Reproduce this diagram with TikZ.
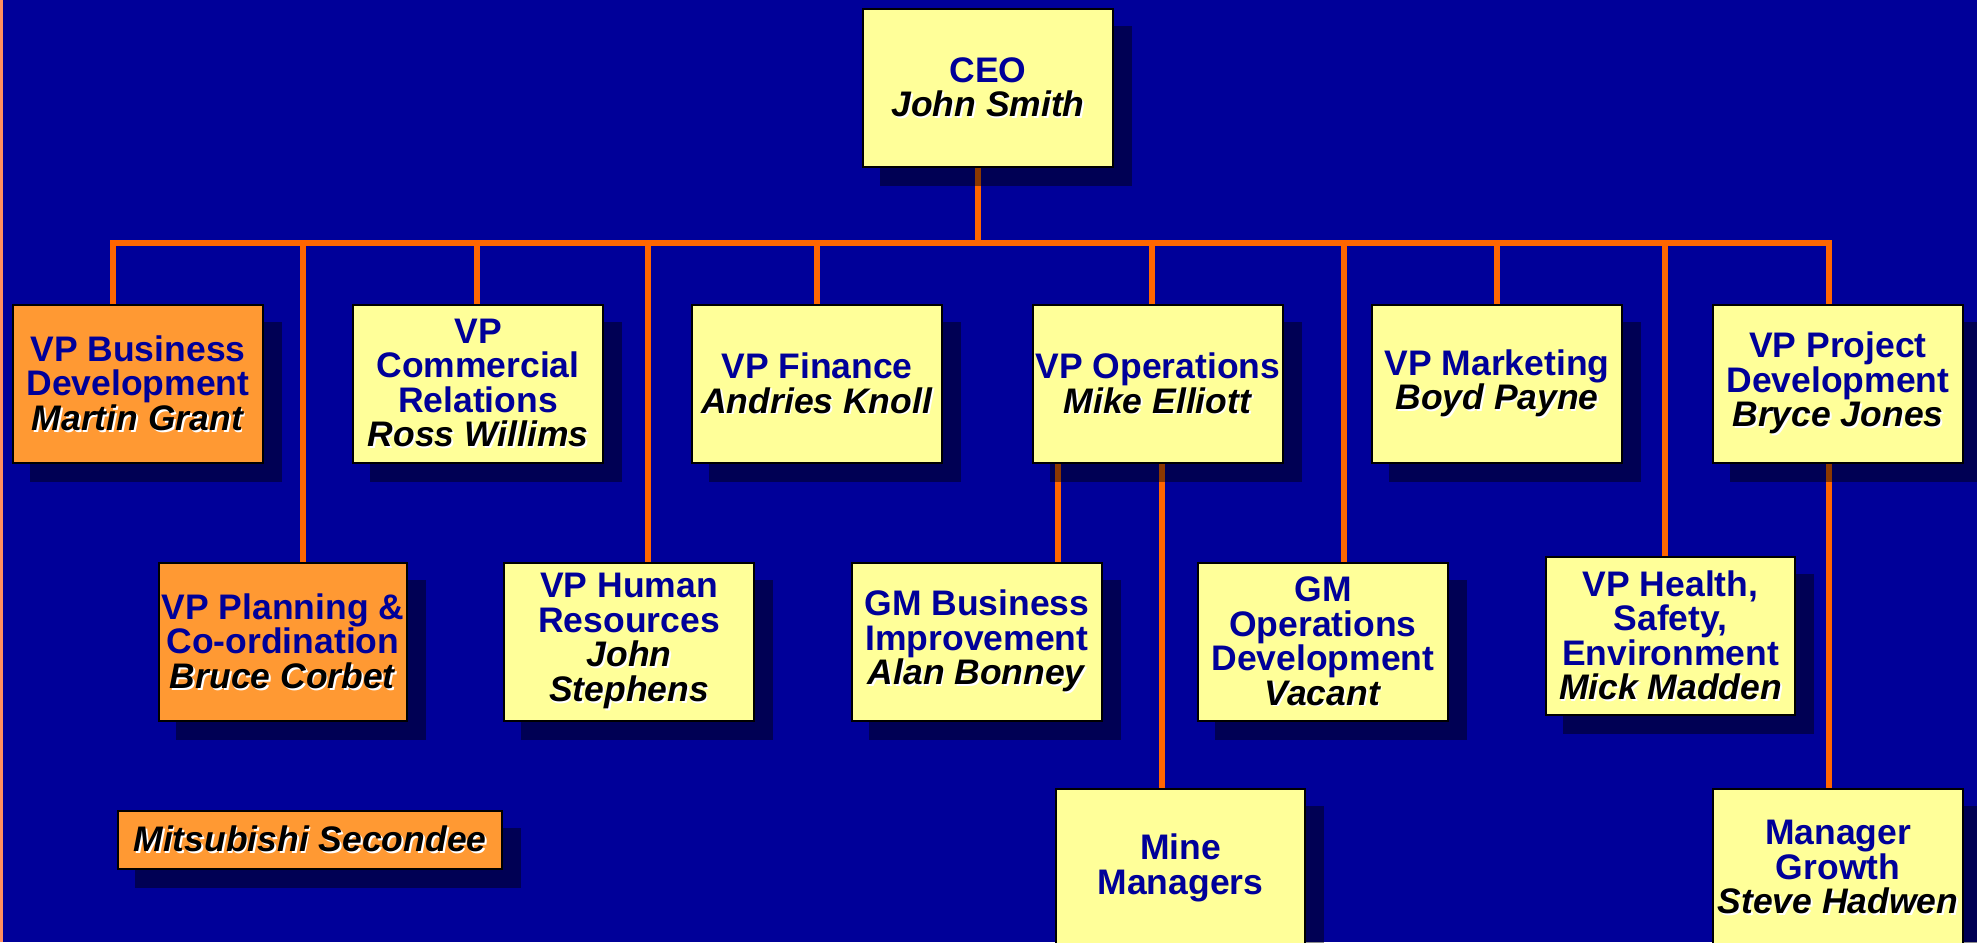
\documentclass[tikz,border=0pt]{standalone}
\usepackage{fontspec}
\setmainfont{Liberation Sans}
\definecolor{bgblue}{HTML}{000099}
\definecolor{navytxt}{HTML}{000099}
\definecolor{lineor}{HTML}{FF6600}
\definecolor{boxyel}{HTML}{FFFF99}
\definecolor{boxor}{HTML}{FF9933}
\definecolor{stripor}{HTML}{FF9060}
\newcommand\shd[1]{\leavevmode\rlap{\kern1.8pt\raisebox{-1.8pt}{\textcolor{white}{#1}}}#1}
\newcommand\ttl[1]{\textcolor{navytxt}{#1}}
\newcommand\nmx[1]{\textit{\shd{#1}}}
\pgfdeclarelayer{bglayer}
\pgfdeclarelayer{lines}
\pgfdeclarelayer{shadows}
\pgfsetlayers{bglayer,lines,shadows,main}
\tikzset{
  orgbox/.style={draw=black, line width=2pt, fill=boxyel, anchor=north west,
    minimum width=250pt, minimum height=158pt, inner sep=0pt, align=center,
    font=\fontsize{35.5}{34.5}\selectfont\bfseries, text=black},
  orgor/.style={orgbox, fill=boxor},
  conn/.style={draw=lineor, line width=6pt, line cap=rect},
  shadowbox/.style={fill=black, fill opacity=0.45, draw=none}
}
\begin{document}
\begin{tikzpicture}[x=1pt,y=-1pt]
\useasboundingbox (0,0) rectangle (1977,942);
\begin{pgfonlayer}{bglayer}
  \fill[bgblue] (0,0) rectangle (1977,942);
  \fill[stripor] (0,0) rectangle (3,942);
\end{pgfonlayer}

% boxes
\node[orgbox] (ceo) at (862,8) {\ttl{CEO}\\\nmx{John Smith}};
\node[orgor] (vpbd) at (12,304) {\ttl{VP Business}\\\ttl{Development}\\\nmx{Martin Grant}};
\node[orgor, minimum width=248pt] (vppc) at (158,562) {\ttl{VP Planning \&}\\\ttl{Co-ordination}\\\nmx{Bruce Corbet}};
\node[orgbox] (vpcr) at (352,304) {\ttl{VP}\\\ttl{Commercial}\\\ttl{Relations}\\\nmx{Ross Willims}};
\node[orgbox] (vphr) at (503,562) {\ttl{VP Human}\\\ttl{Resources}\\\nmx{John}\\\nmx{Stephens}};
\node[orgbox] (vpfin) at (691,304) {\ttl{VP Finance}\\\nmx{Andries Knoll}};
\node[orgbox] (vpops) at (1032,304) {\ttl{VP Operations}\\\nmx{Mike Elliott}};
\node[orgbox] (gmbi) at (851,562) {\ttl{GM Business}\\\ttl{Improvement}\\\nmx{Alan Bonney}};
\node[orgbox, minimum width=249pt] (mine) at (1055,788) {\ttl{Mine}\\\ttl{Managers}};
\node[orgbox] (gmod) at (1197,562) {\ttl{GM}\\\ttl{Operations}\\\ttl{Development}\\\nmx{Vacant}};
\node[orgbox] (vpmkt) at (1371,304) {\ttl{VP Marketing}\\\nmx{Boyd Payne}};
\node[orgbox, minimum width=249pt] (hse) at (1545,556) {\ttl{VP Health,}\\\ttl{Safety,}\\\ttl{Environment}\\\nmx{Mick Madden}};
\node[orgbox] (vppd) at (1712,304) {\ttl{VP Project}\\\ttl{Development}\\\nmx{Bryce Jones}};
\node[orgbox] (mgr) at (1712,788) {\ttl{Manager}\\\ttl{Growth}\\\nmx{Steve Hadwen}};
\node[orgor, minimum width=384pt, minimum height=58pt] (mits) at (117,810) {\nmx{Mitsubishi Secondee}};

% shadows
\begin{pgfonlayer}{shadows}
\foreach \n in {ceo,vpbd,vppc,vpcr,vphr,vpfin,vpops,gmbi,mine,gmod,vpmkt,hse,vppd,mgr,mits}
  \fill[shadowbox] ([shift={(18,18)}]\n.north west) rectangle ([shift={(18,18)}]\n.south east);
\end{pgfonlayer}

% connectors
\begin{pgfonlayer}{lines}
\coordinate (c0) at (978,243);
\coordinate (b1) at (113,243);
\coordinate (b2) at (303,243);
\coordinate (b3) at (477,243);
\coordinate (b4) at (648,243);
\coordinate (b5) at (817,243);
\coordinate (b6) at (1152,243);
\coordinate (b7) at (1344,243);
\coordinate (b8) at (1497,243);
\coordinate (b9) at (1665,243);
\coordinate (b10) at (1829,243);
\coordinate (o1) at (1058,0);
\coordinate (o2) at (1162,0);
\coordinate (p1) at (1829,0);
\draw[conn] (c0) -- (c0 |- ceo.south);
\draw[conn] (b1) -- (b10);
\draw[conn] (b1) -- (b1 |- vpbd.north);
\draw[conn] (b2) -- (b2 |- vppc.north);
\draw[conn] (b3) -- (b3 |- vpcr.north);
\draw[conn] (b4) -- (b4 |- vphr.north);
\draw[conn] (b5) -- (b5 |- vpfin.north);
\draw[conn] (b6) -- (b6 |- vpops.north);
\draw[conn] (b7) -- (b7 |- gmod.north);
\draw[conn] (b8) -- (b8 |- vpmkt.north);
\draw[conn] (b9) -- (b9 |- hse.north);
\draw[conn] (b10) -- (b10 |- vppd.north);
\draw[conn] (o1 |- vpops.south) -- (o1 |- gmbi.north);
\draw[conn] (o2 |- vpops.south) -- (o2 |- mine.north);
\draw[conn] (p1 |- vppd.south) -- (p1 |- mgr.north);
\end{pgfonlayer}
\end{tikzpicture}
\end{document}
